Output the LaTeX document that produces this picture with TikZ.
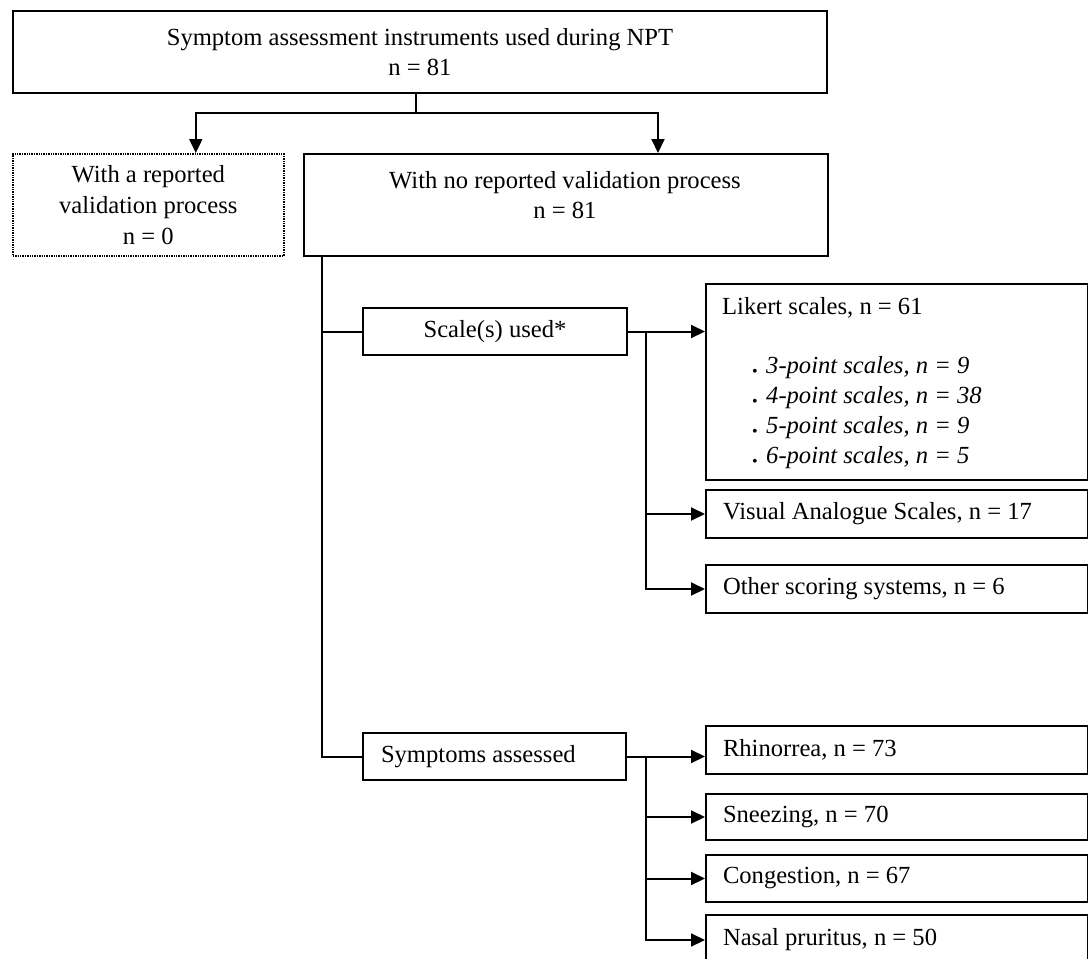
\documentclass[tikz,border=0pt]{standalone}
\usepackage{fontspec}
\setmainfont{Liberation Serif}
\usetikzlibrary{arrows.meta,calc}
\newcommand\bul{\makebox[14pt][l]{\raisebox{-2.5pt}{\fontsize{16}{16}\selectfont\textbullet}}}
\newcommand\nsp{\spaceskip=0pt \xspaceskip=0pt }
\begin{document}
\begin{tikzpicture}[x=1pt,y=-1pt,
  every node/.style={font=\fontsize{24.6}{30}\selectfont},
  box/.style={draw, line width=2pt, inner sep=0pt, anchor=north west},
  ln/.style={line width=2pt},
  arr/.style={line width=2pt, -{Triangle[length=14pt,width=13pt]}},
  lbox/.style={box, minimum height=48pt, minimum width=382pt, text width=348pt, align=left, inner xsep=17pt},
  txt/.style={inner sep=0pt, anchor=west},
]
\path[use as bounding box] (0,0) rectangle (1088,959);
\clip (0,0) rectangle (1088,959);
\fill[white] (0,0) rectangle (1088,959);

\node[box, minimum width=814pt, minimum height=82pt, align=center] (top) at (12,10) {\nsp Symptom assessment instruments used during NPT\\ n = 81};
\node[box, line width=1.6pt, dash pattern=on 1.4pt off 1pt, minimum width=271pt, minimum height=102pt, align=center, font=\fontsize{24.6}{31}\selectfont] (val) at (12,153) {\nsp With a reported\\ validation process\\ n = 0};
\node[box, minimum width=524pt, minimum height=102pt] (noval) at (303,153) {};
\node[inner sep=0pt, align=center] (novalt) at (565,195) {\nsp With no reported validation process\\ n = 81};

\node[box, minimum width=264pt, minimum height=47pt] (scale) at (362,307) {Scale(s) used*};
\node[box, minimum width=382pt, minimum height=196pt] (lik) at (705,283) {};
\node[txt] (likt) at (722,308) {Likert scales, n = 61};
\node[txt] (l3) at (752,368) {\bul\textit{3-point scales, n = 9}};
\node[txt] (l4) at (752,398) {\bul\textit{4-point scales, n = 38}};
\node[txt] (l5) at (752,428) {\bul\textit{5-point scales, n = 9}};
\node[txt] (l6) at (752,458) {\bul\textit{6-point scales, n = 5}};
\node[lbox] (vas) at (705,489) {\nsp Visual Analogue Scales, n = 17};
\node[lbox] (oth) at (705,564) {\nsp Other scoring systems, n = 6};

\node[box, minimum width=263pt, minimum height=47pt, text width=227pt, inner xsep=18pt, align=left] (symp) at (362,732) {\nsp Symptoms assessed};
\node[lbox] (rhi) at (705,725) {\nsp Rhinorrea, n = 73};
\node[lbox, minimum height=46pt] (sne) at (705,793) {\nsp Sneezing, n = 70};
\node[lbox, minimum height=47pt] (con) at (705,854) {\nsp Congestion, n = 67};
\node[lbox, minimum height=50pt] (nas) at (705,914) {\nsp Nasal pruritus, n = 50};

% connectors
\coordinate (split) at ($(top.south)+(-4,19)$);
\draw[ln] ([xshift=-4pt]top.south) -- (split);
\draw[arr] (split) -| ([xshift=47.5pt]val.north);
\draw[arr] (split) -| ([xshift=92pt]noval.north);

\coordinate (trunk) at ([xshift=19pt]noval.south west);
\draw[ln] (trunk) |- (symp.west);
\draw[ln] (scale.west) -- (scale.west -| trunk);

\draw[arr] (scale.east) -- (scale.east -| lik.west);
\coordinate (sb) at ([xshift=18pt]scale.east);
\draw[arr] (sb) |- (vas.west);
\draw[arr] (sb) |- (oth.west);

\draw[arr] (symp.east) -- (symp.east -| rhi.west);
\coordinate (yb) at ([xshift=19pt]symp.east);
\draw[arr] (yb) |- (sne.west);
\draw[arr] (yb) |- (con.west);
\draw[arr] (yb) |- (nas.west);
\end{tikzpicture}
\end{document}
